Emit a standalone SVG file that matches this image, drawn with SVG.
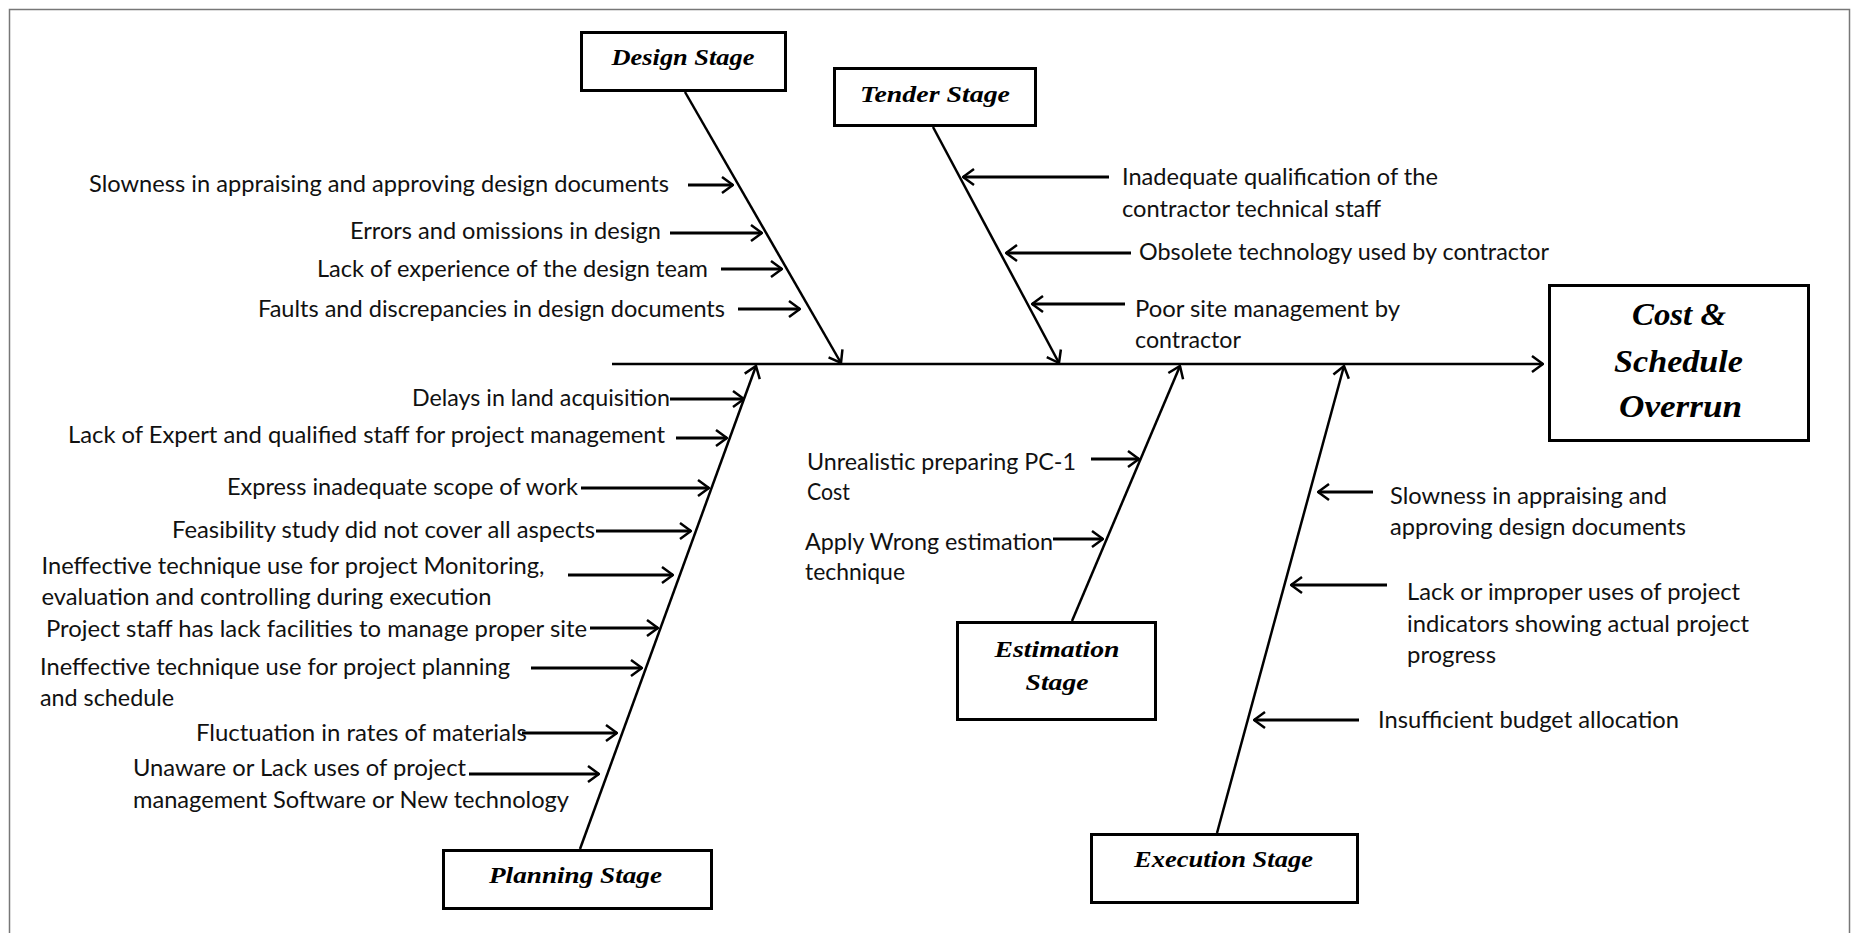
<svg xmlns="http://www.w3.org/2000/svg" width="1852" height="933" viewBox="0 0 1852 933">
<defs>
<style>
.lbl{font-family:Lato,"Open Sans","Liberation Sans",sans-serif;font-size:23px;fill:#111}
.stg{font-family:"Liberation Serif","Times New Roman",serif;font-weight:bold;font-style:italic;font-size:23.5px;fill:#000;text-anchor:middle}
.eff{font-family:"Liberation Serif","Times New Roman",serif;font-weight:bold;font-style:italic;font-size:31px;fill:#000;text-anchor:middle}
.box{fill:#fff;stroke:#000;stroke-width:3}
.bone{stroke:#000;stroke-width:2.5;fill:none}
.arr{stroke:#000;stroke-width:3;fill:none}
</style>
<marker id="ah" viewBox="0 0 14 20" refX="13" refY="10" markerWidth="14" markerHeight="20" markerUnits="userSpaceOnUse" orient="auto">
<path d="M2,2 L13,10 L2,18" fill="none" stroke="#000" stroke-width="2.5"/>
</marker>
</defs>
<rect x="0" y="0" width="1852" height="933" fill="#fff"/>
<rect x="9.5" y="9.5" width="1840" height="940" fill="none" stroke="#777" stroke-width="1.5"/>

<g id="connectors">
<line class="bone" x1="612" y1="364" x2="1543" y2="364" marker-end="url(#ah)" stroke-width="3"/>
<line class="bone" x1="685" y1="92" x2="841" y2="363" marker-end="url(#ah)"/>
<line class="bone" x1="933" y1="127" x2="1059" y2="363" marker-end="url(#ah)"/>
<line class="bone" x1="580" y1="849" x2="756" y2="366" marker-end="url(#ah)"/>
<line class="bone" x1="1072" y1="621" x2="1180" y2="366" marker-end="url(#ah)"/>
<line class="bone" x1="1217" y1="833" x2="1344" y2="366" marker-end="url(#ah)"/>

<line class="arr" x1="688" y1="185" x2="733" y2="185" marker-end="url(#ah)"/>
<line class="arr" x1="670" y1="233" x2="762" y2="233" marker-end="url(#ah)"/>
<line class="arr" x1="721" y1="269" x2="782" y2="269" marker-end="url(#ah)"/>
<line class="arr" x1="738" y1="309" x2="800" y2="309" marker-end="url(#ah)"/>

<line class="arr" x1="1109" y1="177" x2="963" y2="177" marker-end="url(#ah)"/>
<line class="arr" x1="1131" y1="253" x2="1006" y2="253" marker-end="url(#ah)"/>
<line class="arr" x1="1125" y1="304" x2="1032" y2="304" marker-end="url(#ah)"/>

<line class="arr" x1="670" y1="399" x2="744" y2="399" marker-end="url(#ah)"/>
<line class="arr" x1="676" y1="438" x2="727" y2="438" marker-end="url(#ah)"/>
<line class="arr" x1="581" y1="488" x2="709" y2="488" marker-end="url(#ah)"/>
<line class="arr" x1="596" y1="531" x2="691" y2="531" marker-end="url(#ah)"/>
<line class="arr" x1="568" y1="575" x2="673" y2="575" marker-end="url(#ah)"/>
<line class="arr" x1="590" y1="628" x2="658" y2="628" marker-end="url(#ah)"/>
<line class="arr" x1="531" y1="668" x2="642" y2="668" marker-end="url(#ah)"/>
<line class="arr" x1="522" y1="733" x2="617" y2="733" marker-end="url(#ah)"/>
<line class="arr" x1="469" y1="774" x2="599" y2="774" marker-end="url(#ah)"/>

<line class="arr" x1="1091" y1="459" x2="1139" y2="459" marker-end="url(#ah)"/>
<line class="arr" x1="1053" y1="539" x2="1103" y2="539" marker-end="url(#ah)"/>

<line class="arr" x1="1373" y1="492" x2="1318" y2="492" marker-end="url(#ah)"/>
<line class="arr" x1="1387" y1="585" x2="1291" y2="585" marker-end="url(#ah)"/>
<line class="arr" x1="1359" y1="720" x2="1254" y2="720" marker-end="url(#ah)"/>
</g>

<g id="design-stage">
<rect class="box" x="581.5" y="32.5" width="204" height="58"/>
<text class="stg" x="683" y="65" textLength="143" lengthAdjust="spacingAndGlyphs">Design Stage</text>
</g>
<g id="tender-stage">
<rect class="box" x="834.5" y="68.5" width="201" height="57"/>
<text class="stg" x="935" y="102" textLength="150" lengthAdjust="spacingAndGlyphs">Tender Stage</text>
</g>
<g id="planning-stage">
<rect class="box" x="443.5" y="850.5" width="268" height="58"/>
<text class="stg" x="575.5" y="883" textLength="173" lengthAdjust="spacingAndGlyphs">Planning Stage</text>
</g>
<g id="estimation-stage">
<rect class="box" x="957.5" y="622.5" width="198" height="97"/>
<text class="stg" x="1057" y="657" textLength="125" lengthAdjust="spacingAndGlyphs">Estimation</text>
<text class="stg" x="1057" y="690" textLength="63" lengthAdjust="spacingAndGlyphs">Stage</text>
</g>
<g id="execution-stage">
<rect class="box" x="1091.5" y="834.5" width="266" height="68"/>
<text class="stg" x="1223.5" y="867" textLength="179" lengthAdjust="spacingAndGlyphs">Execution Stage</text>
</g>
<g id="effect">
<rect class="box" x="1549.5" y="285.5" width="259" height="155"/>
<text class="eff" x="1679" y="325" textLength="94" lengthAdjust="spacingAndGlyphs">Cost &amp;</text>
<text class="eff" x="1678.5" y="372" textLength="129" lengthAdjust="spacingAndGlyphs">Schedule</text>
<text class="eff" x="1680.5" y="417" textLength="123" lengthAdjust="spacingAndGlyphs">Overrun</text>
</g>

<g id="design-causes">
<text class="lbl" x="89" y="192" textLength="580" lengthAdjust="spacingAndGlyphs">Slowness in appraising and approving design documents</text>
<text class="lbl" x="350" y="239" textLength="311" lengthAdjust="spacingAndGlyphs">Errors and omissions in design</text>
<text class="lbl" x="317" y="277" textLength="391" lengthAdjust="spacingAndGlyphs">Lack of experience of the design team</text>
<text class="lbl" x="258" y="317" textLength="467" lengthAdjust="spacingAndGlyphs">Faults and discrepancies in design documents</text>
</g>
<g id="tender-causes">
<text class="lbl" x="1122" y="185" textLength="316" lengthAdjust="spacingAndGlyphs">Inadequate qualification of the</text>
<text class="lbl" x="1122" y="217" textLength="259" lengthAdjust="spacingAndGlyphs">contractor technical staff</text>
<text class="lbl" x="1139" y="260" textLength="410" lengthAdjust="spacingAndGlyphs">Obsolete technology used by contractor</text>
<text class="lbl" x="1135" y="317" textLength="265" lengthAdjust="spacingAndGlyphs">Poor site management by</text>
<text class="lbl" x="1135" y="348" textLength="106" lengthAdjust="spacingAndGlyphs">contractor</text>
</g>
<g id="planning-causes">
<text class="lbl" x="412" y="406" textLength="258" lengthAdjust="spacingAndGlyphs">Delays in land acquisition</text>
<text class="lbl" x="68" y="443" textLength="597" lengthAdjust="spacingAndGlyphs">Lack of Expert and qualified staff for project management</text>
<text class="lbl" x="227" y="495" textLength="351" lengthAdjust="spacingAndGlyphs">Express inadequate scope of work</text>
<text class="lbl" x="172" y="538" textLength="423" lengthAdjust="spacingAndGlyphs">Feasibility study did not cover all aspects</text>
<text class="lbl" x="41.5" y="574" textLength="503" lengthAdjust="spacingAndGlyphs">Ineffective technique use for project Monitoring,</text>
<text class="lbl" x="41.5" y="605" textLength="450" lengthAdjust="spacingAndGlyphs">evaluation and controlling during execution</text>
<text class="lbl" x="46" y="637" textLength="541" lengthAdjust="spacingAndGlyphs">Project staff has lack facilities to manage proper site</text>
<text class="lbl" x="40" y="675" textLength="470" lengthAdjust="spacingAndGlyphs">Ineffective technique use for project planning</text>
<text class="lbl" x="40" y="706" textLength="134" lengthAdjust="spacingAndGlyphs">and schedule</text>
<text class="lbl" x="196" y="741" textLength="331" lengthAdjust="spacingAndGlyphs">Fluctuation in rates of materials</text>
<text class="lbl" x="133" y="776" textLength="333" lengthAdjust="spacingAndGlyphs">Unaware or Lack uses of project</text>
<text class="lbl" x="133" y="808" textLength="436" lengthAdjust="spacingAndGlyphs">management Software or New technology</text>
</g>
<g id="estimation-causes">
<text class="lbl" x="807" y="470" textLength="269" lengthAdjust="spacingAndGlyphs">Unrealistic preparing PC-1</text>
<text class="lbl" x="807" y="500" textLength="43" lengthAdjust="spacingAndGlyphs">Cost</text>
<text class="lbl" x="805" y="550" textLength="248" lengthAdjust="spacingAndGlyphs">Apply Wrong estimation</text>
<text class="lbl" x="805" y="580" textLength="100" lengthAdjust="spacingAndGlyphs">technique</text>
</g>
<g id="execution-causes">
<text class="lbl" x="1390" y="504" textLength="277" lengthAdjust="spacingAndGlyphs">Slowness in appraising and</text>
<text class="lbl" x="1390" y="535" textLength="296" lengthAdjust="spacingAndGlyphs">approving design documents</text>
<text class="lbl" x="1407" y="600" textLength="333" lengthAdjust="spacingAndGlyphs">Lack or improper uses of project</text>
<text class="lbl" x="1407" y="632" textLength="342" lengthAdjust="spacingAndGlyphs">indicators showing actual project</text>
<text class="lbl" x="1407" y="663" textLength="89" lengthAdjust="spacingAndGlyphs">progress</text>
<text class="lbl" x="1378" y="728" textLength="301" lengthAdjust="spacingAndGlyphs">Insufficient budget allocation</text>
</g>
</svg>
